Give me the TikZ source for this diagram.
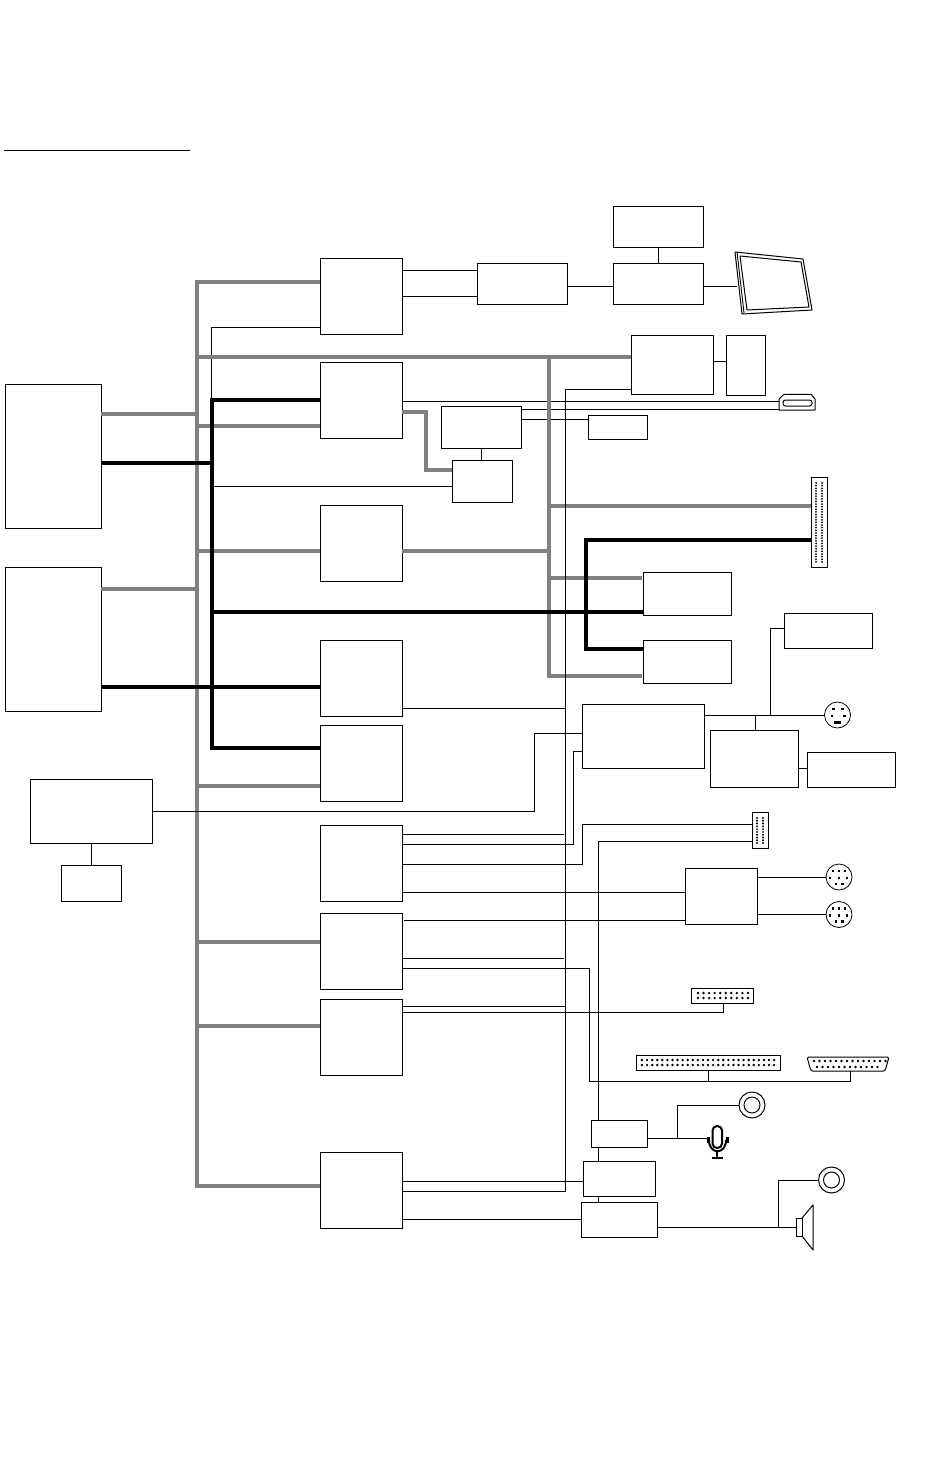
\documentclass[tikz,border=0pt]{standalone}
\usepackage{tikz}
\usetikzlibrary{calc}
\definecolor{busgray}{HTML}{808080}
\tikzset{
 blk box/.style={draw=black,line width=1pt,inner sep=0pt,outer sep=0pt},
 blk thin/.style={line width=1pt},
 blk gray/.style={line width=4pt,busgray},
 blk heavy/.style={line width=4pt,black},
 blk din/.style={circle,draw=black,line width=.8pt,minimum size=26pt,inner sep=0pt,outer sep=0pt},
 blk jack/.style={circle,draw=black,line width=1pt,minimum size=26pt,inner sep=0pt,outer sep=0pt},
 blk jack hole/.style={circle,draw=black,line width=1pt,minimum size=16pt,inner sep=0pt,outer sep=0pt},
 blk icon/.style={line width=1pt,line join=round}
}
\begin{document}
\begin{tikzpicture}[x=1pt,y=-1pt]
 \useasboundingbox (0,0) rectangle (929,1466);
 \foreach \n/\xa/\ya/\xb/\yb in {dvi/613/206.5/703/247,encdr/613/263.5/703/304,lvds/477/263.5/567/304,
   gfx/320/258.5/402/334,pcie/631/335.5/713/394,flash/726/335.5/765/395,
   hub/320/362/402/438,audc/441/406/521/448,lan/588/415/647/439,chipa/452/460/512/502,
   ioa/320/505/402/581,cpua/5/384.5/101/528,cpub/5/567.5/101/711,
   slota/643/572/731.5/615,slotb/643/640/731.5/683,pci/811/477/827/567,
   ctla/320/640.5/402/716,ctlb/320/725/402/801,kbd/582/704/704.5/768,
   ps/784/613/872.5/648.5,mouse/710/730/798/787,touch/807/752/895.5/787,
   bios/30/779.5/152/843,rtc/61/865.5/121/901,
   ioc/320/825.5/402/901,iod/320/913.5/402/989,ioe/320/999.5/402/1075,iof/320/1152.5/402/1228,
   hdr/752/812/768/848,ser/685/868/757.5/924.5,rib/691/988/753.5/1003,wide/636.5/1055/780.5/1070,
   audin/591/1120.5/647.5/1147,codec/583/1161.5/655/1196,amp/581/1202/657.5/1237}{
   \node[blk box,minimum width={(\xb-\xa)*1pt},minimum height={(\yb-\ya)*1pt}] (\n)
     at ({(\xa+\xb)/2},{(\ya+\yb)/2}) {};
 }
 \coordinate (ula) at (4,150);
 \coordinate (ulb) at (190,150);
 \draw[line width=.7pt] (ula)--(ulb);
 \coordinate (gbus) at (197,0);
 \coordinate (hbus) at (212,0);
 \coordinate (sbus) at (549,0);
 \coordinate (tbus) at (565,0);
 \coordinate (abus) at (598,0);
 \coordinate (panel) at (737,286);
 \coordinate (hdmi) at (779,405);
 \coordinate (mic) at (707,1138);
 \coordinate (spk) at (796,1227);
 \coordinate (db) at (850.5,1071);
 \node[blk din] (din) at (837.5,715) {};
 \node[blk din] (mina) at (839,877) {};
 \node[blk din] (minb) at (839,914.5) {};
 \node[blk jack] (jacka) at (752,1105) {};
 \node[blk jack hole] at (jacka) {};
 \node[blk jack] (jackb) at (831.5,1180) {};
 \node[blk jack hole] at (jackb) {};
 % thin links
 \foreach \y in {270,296}{\draw[blk thin] (gfx.east |- 0,\y)--(lvds.west |- 0,\y);}
 \draw[blk thin] (lvds.east |- 0,286)--(encdr.west |- 0,286);
 \draw[blk thin] (encdr.east |- 0,286)--(panel);
 \draw[blk thin] (encdr.north -| 658,0)--(dvi.south -| 658,0);
 \draw[blk thin] (gfx.west |- 0,327)-|(211.3,400);
 \draw[blk thin] (pcie.east |- 0,361)--(flash.west |- 0,361);
 \draw[blk thin] (hub.east |- 0,401)--(hdmi |- 0,401);
 \draw[blk thin] (audc.east |- 0,409.5)--(hdmi |- 0,409.5);
 \draw[blk thin] (audc.east |- 0,419.5)--(lan.west |- 0,419.5);
 \draw[blk thin] (audc.south -| 481,0)--(chipa.north -| 481,0);
 \draw[blk thin] (hbus |- 0,486.5)--(chipa.west |- 0,486.5);
 % gray bus
 \foreach \n/\y in {gfx/282,hub/426,ioa/550.5,ctlb/786,iod/942,ioe/1026,iof/1186}{
   \draw[blk gray] (gbus |- 0,\y)--(\n.west |- 0,\y);
 }
 \foreach \n/\y in {cpua/413.5,cpub/589}{\draw[blk gray] (\n.east |- 0,\y)--(gbus |- 0,\y);}
 \draw[blk gray] (gbus |- 0,356.5)--(pcie.west |- 0,356.5);
 \draw[blk gray] (ioa.east |- 0,550.5)--(sbus |- 0,550.5);
 \draw[blk gray] (sbus |- 0,506)--(pci.west |- 0,506);
 \draw[blk gray] (sbus |- 0,578)--(642,578);
 \draw[blk gray] (642,676)-|(sbus |- 0,356.5);
 \draw[blk gray] (hub.east |- 0,412)-|(426,470)--(chipa.west |- 0,470);
 \draw[blk gray] (gbus |- 0,280)--(gbus |- 0,1188);
 % thin links over the gray bus
 \draw[blk thin] (pcie.west |- 0,389)-|(tbus |- 0,1191)--(iof.east |- 0,1191);
 \draw[blk thin] (ctla.east |- 0,708.5)--(tbus |- 0,708.5);
 \draw[blk thin] (bios.east |- 0,811)-|(534,733.5)--(kbd.west |- 0,733.5);
 \draw[blk thin] (ioc.east |- 0,834)--(564,834);
 \draw[blk thin] (ioc.east |- 0,844)-|(573,751)--(kbd.west |- 0,751);
 \draw[blk thin] (ioc.east |- 0,864)-|(582,824)--(hdr.west |- 0,824);
 \draw[blk thin] (ioc.east |- 0,892)--(ser.west |- 0,892);
 \draw[blk thin] (404,920)--(ser.west |- 0,920);
 \draw[blk thin] (iod.east |- 0,958.5)--(564,958.5);
 \draw[blk thin] (iod.east |- 0,968.5)-|(589.5,1081)-|(db);
 \draw[blk thin] (wide.south -| 708,0)--(708,1081);
 \draw[blk thin] (ioe.east |- 0,1006.5)--(tbus |- 0,1006.5);
 \draw[blk thin] (ioe.east |- 0,1012.5)-|(rib.south -| 723.5,0);
 \draw[blk thin] (hdr.west |- 0,841.5)-|(audin.north -| abus);
 \draw[blk thin] (audin.south -| abus)--(codec.north -| abus);
 \draw[blk thin] (codec.south -| abus)--(amp.north -| abus);
 \draw[blk thin] (iof.east |- 0,1181)--(codec.west |- 0,1181);
 \draw[blk thin] (iof.east |- 0,1219)--(amp.west |- 0,1219);
 \draw[blk thin] (audin.east |- mic)--(mic);
 \draw[blk thin] (677,1138)|-(jacka.west);
 \draw[blk thin] (amp.east |- spk)--(spk);
 \draw[blk thin] (778,1227)|-(jackb.west);
 \draw[blk thin] (kbd.east |- din.west)--(din.west);
 \draw[blk thin] (770,715)|-(ps.west |- 0,628.5);
 \draw[blk thin] (755,715)--(mouse.north -| 755,0);
 \draw[blk thin] (mouse.east |- 0,768)--(touch.west |- 0,768);
 \draw[blk thin] (ser.east |- mina.west)--(mina.west);
 \draw[blk thin] (ser.east |- minb.west)--(minb.west);
 \draw[blk thin] (bios.south -| 91,0)--(rtc.north -| 91,0);
 % black bus
 \draw[blk heavy] (hub.west |- 0,400)-|(hbus |- 0,748)--(ctlb.west |- 0,748);
 \draw[blk heavy] (cpua.east |- 0,463)--(hbus |- 0,463);
 \draw[blk heavy] (cpub.east |- 0,687)--(ctla.west |- 0,687);
 \draw[blk heavy] (hbus |- 0,612)--(slota.west |- 0,612);
 \draw[blk heavy] (pci.west |- 0,540)-|(586,649)--(slotb.west |- 0,649);
 % panel
 \draw[blk icon] (735,252)--(803,259)--(812,310)--(742,314)--cycle;
 \draw[blk icon] (740,256)--(801,262)--(809,307)--(747,310)--cycle;
 \draw[line width=.9pt] (737,252)--(744,313);
 % hdmi
 \draw[blk icon] (779,399)--(784,394.3)--(811,394.3)--(815,399)--(815,410)--(779,410)--cycle;
 \draw[blk icon,rounded corners=2.5pt] (783,400) rectangle (812,406);
 % pin rows
 \foreach \y in {0,...,30}{
   \foreach \x in {816,822}{\fill (\x,483+\y*2.63) circle (1pt);}
 }
 \foreach \y in {0,...,9}{
   \foreach \x in {757,763}{\fill (\x,818+\y*2.78) circle (1.1pt);}
 }
 \foreach \x in {0,...,9}{
   \foreach \y in {993,998}{\fill (698+\x*5.55,\y) circle (1.35pt);}
 }
 \foreach \x in {0,...,26}{
   \foreach \y in {1060,1065}{\fill (642+\x*5.08,\y) circle (1.35pt);}
 }
 % sub-d
 \draw[blk icon,rounded corners=1.5pt] (807,1057)--(889,1057)--(885,1071)--(811,1071)--cycle;
 \foreach \x in {0,...,13}{\fill (814+\x*5.5,1061) circle (1.35pt);}
 \foreach \x in {0,...,11}{\fill (817+\x*5.5,1067) circle (1.35pt);}
 % din pins
 \foreach \x/\y in {-4/-6,5/-6,-5.5/1,7/1}{\fill ($(din)+(\x-1.3,\y-1.3)$) rectangle +(2.6,2.6);}
 \fill ($(din)+(-3.5,6)$) rectangle +(7,2.6);
 \foreach \m in {mina,minb}{
   \foreach \x/\y in {-6/-6,0/-6,6/-6,-9/1,0/1,8/1,-3/7,3.5/7}{
     \fill ($(\m)+(\x-1.2,\y-1.2)$) rectangle +(2.4,2.4);
   }
 }
 % mic
 \draw[line width=2pt,rounded corners=4.5pt] (712.5,1126) rectangle (722,1148);
 \draw[line width=2pt] (709,1140)..controls (709,1155) and (726,1155)..(726,1140);
 \draw[line width=3pt] (708,1137)--(708,1143);
 \draw[line width=3pt] (727,1137)--(727,1143);
 \draw[line width=2pt] (717.3,1152)--(717.3,1157);
 \draw[line width=2pt] (711.5,1157.5)--(723,1157.5);
 % speaker
 \draw[blk icon] (796,1218) rectangle (802,1236);
 \draw[blk icon] (802,1218)--(813,1205)--(813,1250)--(802,1236);
\end{tikzpicture}
\end{document}
